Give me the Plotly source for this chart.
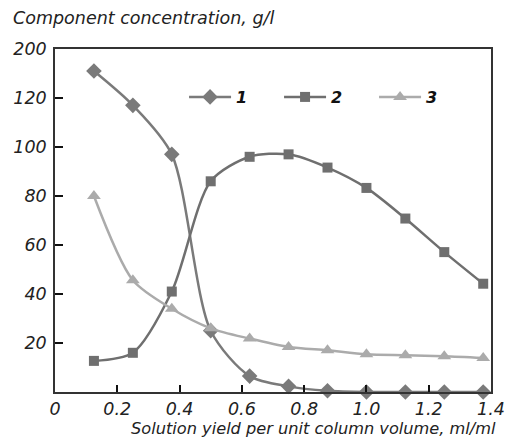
import plotly.graph_objects as go

x_vals = [0.125, 0.25, 0.375, 0.5, 0.625, 0.75, 0.875, 1.0, 1.125, 1.25, 1.375]
series_1 = [131, 117, 97, 25, 6.5, 2.3, 0.5, 0, 0, 0, 0]
series_2 = [12.7, 16, 41, 86, 96, 97, 91.6, 83.3, 70.8, 57.1, 44.2]
series_3 = [80, 45.6, 34, 26, 21.8, 18.4, 17, 15.4, 15, 14.6, 13.9]
names = ["1", "2", "3"]

y_tickvals = [20, 40, 60, 80, 100, 120, 140]
y_ticktext = ["20", "40", "60", "80", "100", "120", "200"]
x_tickvals = [0, 0.2, 0.4, 0.6, 0.8, 1.0, 1.2, 1.4]
x_ticktext = ["0", "0.2", "0.4", "0.6", "0.8", "1.0", "1.2", "1.4"]

FONT = "DejaVu Sans"
styles = [
    dict(color="#7a7a7a", symbol="diamond", size=12),
    dict(color="#6f6f6f", symbol="square", size=10),
    dict(color="#ababab", symbol="triangle-up", size=12),
]

fig = go.Figure()
for name, ys, st in zip(names, [series_1, series_2, series_3], styles):
    fig.add_trace(go.Scatter(
        x=x_vals, y=ys, name=name, mode="lines+markers",
        line=dict(color=st["color"], width=2.5, shape="spline", smoothing=0.8),
        marker=dict(color=st["color"], symbol=st["symbol"], size=st["size"]),
        cliponaxis=False,
    ))

fig.update_layout(
    width=506, height=438,
    margin=dict(l=55, r=15, t=49, b=46),
    paper_bgcolor="white", plot_bgcolor="white",
    font=dict(family=FONT, size=16, color="#222222"),
    showlegend=True,
    legend=dict(
        orientation="h", x=0.296, y=0.86, xanchor="left", yanchor="middle",
        bgcolor="rgba(0,0,0,0)", entrywidth=38, itemwidth=42,
        font=dict(family=FONT, size=16, color="#111111", style="italic", weight="bold"),
    ),
    xaxis=dict(
        range=[0, 1.4], tickvals=x_tickvals, ticktext=x_ticktext, automargin=False,
        showgrid=False, zeroline=False, showline=True, linecolor="#333333", linewidth=1.5,
        mirror=True, ticks="inside", ticklen=7, tickwidth=2, tickcolor="#111111",
        tickfont=dict(family=FONT, size=17.5, style="italic", color="#222222"),
    ),
    yaxis=dict(
        range=[0, 140], tickvals=y_tickvals, ticktext=y_ticktext, automargin=False,
        showgrid=False, zeroline=False, showline=True, linecolor="#333333", linewidth=1.5,
        mirror=True, ticks="inside", ticklen=8, tickwidth=2, tickcolor="#111111",
        tickfont=dict(family=FONT, size=17.5, style="italic", color="#222222"),
        ticklabelstandoff=3,
    ),
    annotations=[
        dict(text="Component concentration, g/l", xref="paper", yref="paper",
             x=-44/436, y=1 + 31/343, xanchor="left", yanchor="middle", showarrow=False,
             font=dict(family=FONT, size=17.5, style="italic", color="#222222")),
        dict(text="Solution yield per unit column volume, ml/ml", xref="paper", yref="paper",
             x=1 + 7/436, y=-36/343, xanchor="right", yanchor="middle", showarrow=False,
             font=dict(family=FONT, size=16.2, style="italic", color="#222222")),
    ],
)

fig.write_html("out.html", config={"displayModeBar": False},
               post_script="document.body.style.margin='0';")
